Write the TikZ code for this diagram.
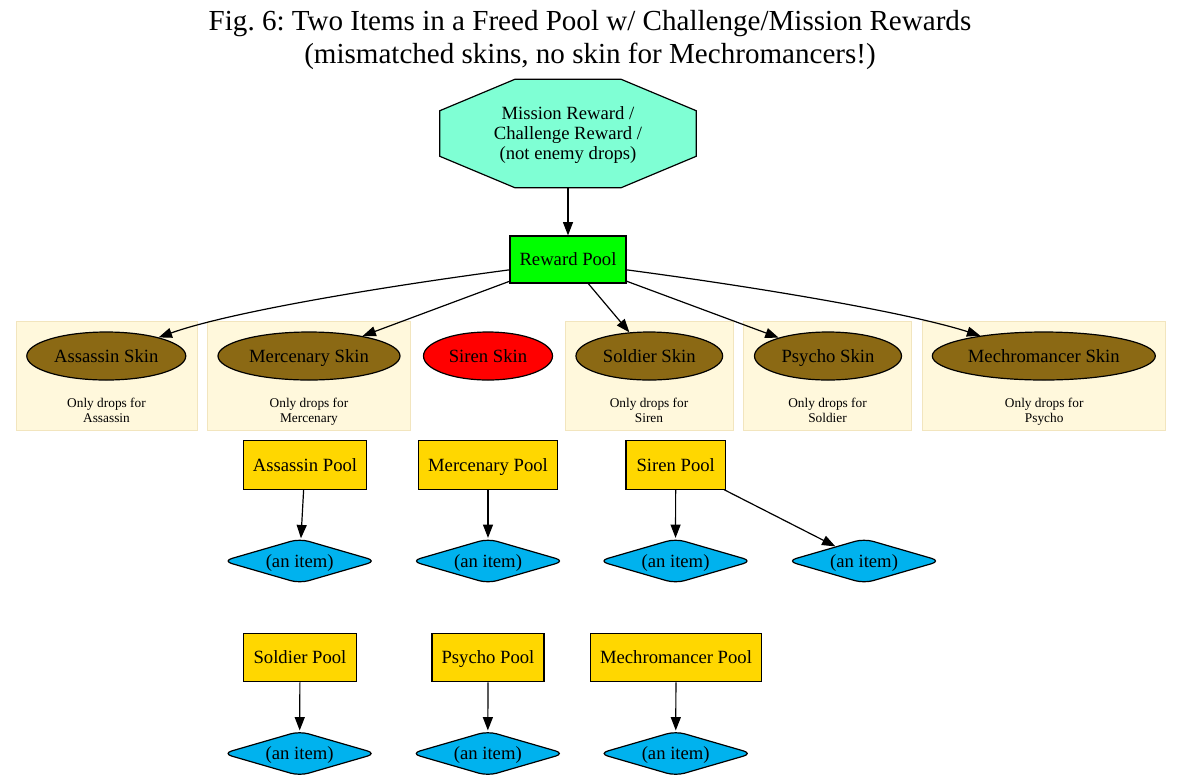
\documentclass[tikz,border=0pt]{standalone}
\usepackage{fontspec}
\setmainfont{Liberation Serif}
\usetikzlibrary{shapes.geometric,arrows.meta,backgrounds}
\definecolor{aquam}{HTML}{7FFFD4}
\definecolor{rpgreen}{HTML}{00FF00}
\definecolor{skinbrown}{HTML}{8B6914}
\definecolor{sirenred}{HTML}{FF0000}
\definecolor{poolgold}{HTML}{FFD700}
\definecolor{itemblue}{HTML}{00B2EE}
\definecolor{clfill}{HTML}{FFF8DC}
\definecolor{clborder}{HTML}{F2E5BE}
\newlength\px
\setlength\px{0.75pt}
\newcommand\nfont{\fontsize{14}{15}\selectfont}
\newcommand\sfont{\fontsize{10}{11.5}\selectfont}
\newcommand\tfont{\fontsize{21.8}{24.75}\selectfont}
\frenchspacing
\begin{document}
\begin{tikzpicture}[x=0.75pt,y=-0.75pt,
  every node/.style={font=\nfont},
  oneline/.style={text height=10pt, text depth=0.8pt},
  skin/.style={oneline, ellipse, draw, fill=skinbrown, minimum height=48\px, inner sep=0, line width=0.9pt},
  pool/.style={oneline, rectangle, draw, fill=poolgold, minimum height=48.3\px, inner sep=0, line width=0.9pt},
  item/.style={oneline, diamond, aspect=3.4, draw, fill=itemblue, minimum width=154\px, minimum height=45\px, inner sep=0, rounded corners=7pt, line width=0.9pt},
  cluster/.style={rectangle, draw=clborder, fill=clfill, minimum height=108.5\px, inner sep=0, line width=0.75pt},
  cllabel/.style={font=\sfont, align=center, anchor=north, inner sep=0},
  edge/.style={draw, line width=0.9pt, -{Triangle[length=10pt,width=7.5pt]}}]
\useasboundingbox (0,0) rectangle (1181,783);

% title
\node[font=\tfont, align=center] (title) at (590,40.5) {Fig. 6: Two Items in a Freed Pool w/ Challenge/Mission Rewards\\(mismatched skins, no skin for Mechromancers!)};

% source octagon
\node[align=center, minimum width=256\px, minimum height=108\px, inner sep=0] (src) at (568,133.5) {};
\node[align=center, inner sep=0] (srctext) at (568,135) {Mission Reward /\\Challenge Reward /\\(not enemy drops)};
\begin{scope}[on background layer]
\draw[fill=aquam, line width=0.9pt] ([xshift=-53\px]src.north) -- ([xshift=53\px]src.north) -- ([yshift=-31.5\px]src.north east) -- ([yshift=31.5\px]src.south east) -- ([xshift=53\px]src.south) -- ([xshift=-53\px]src.south) -- ([yshift=31.5\px]src.south west) -- ([yshift=-31.5\px]src.north west) -- cycle;
\end{scope}

% reward pool
\node[oneline, rectangle, draw, fill=rpgreen, minimum width=116\px, minimum height=47\px, inner sep=0, line width=0.9pt] (rp) at (568,259.5) {Reward Pool};

% clusters
\node[cluster, minimum width=181\px] (c1) at (106.5,375.75) {};
\node[cluster, minimum width=203\px] (c2) at (309,375.75) {};
\node[cluster, minimum width=168\px] (c3) at (649,375.75) {};
\node[cluster, minimum width=168.4\px] (c4) at (827.5,375.75) {};
\node[cluster, minimum width=243\px] (c5) at (1044.2,375.75) {};
\node[cllabel] (l1) at (106.5,397.5) {Only drops for\\Assassin};
\node[cllabel] (l2) at (309,397.5) {Only drops for\\Mercenary};
\node[cllabel] (l3) at (649,397.5) {Only drops for\\Siren};
\node[cllabel] (l4) at (827.5,397.5) {Only drops for\\Soldier};
\node[cllabel] (l5) at (1044.2,397.5) {Only drops for\\Psycho};

% skins
\node[skin, minimum width=159\px] (as) at (106.3,356) {Assassin Skin};
\node[skin, minimum width=182\px] (ms) at (309,356) {Mercenary Skin};
\node[skin, fill=sirenred, minimum width=129\px] (sis) at (488,356) {Siren Skin};
\node[skin, minimum width=146.7\px] (ss) at (649.3,356) {Soldier Skin};
\node[skin, minimum width=147\px] (ps) at (828,356) {Psycho Skin};
\node[skin, minimum width=223\px] (mks) at (1043.8,356) {Mechromancer Skin};

% pools row 1
\node[pool, minimum width=123.4\px] (ap) at (305,465) {Assassin Pool};
\node[pool, minimum width=139\px] (mp) at (488,465) {Mercenary Pool};
\node[pool, minimum width=99.3\px] (sip) at (675.7,465) {Siren Pool};
% items row 1
\node[item] (ai) at (299.7,561) {(an item)};
\node[item] (mi) at (488,561) {(an item)};
\node[item] (sii1) at (675.5,561) {(an item)};
\node[item] (sii2) at (864,561) {(an item)};

% pools row 2
\node[pool, minimum width=112.5\px] (sp) at (300,657.5) {Soldier Pool};
\node[pool, minimum width=112\px] (pp) at (488,657.5) {Psycho Pool};
\node[pool, minimum width=171\px] (mkp) at (676,657.5) {Mechromancer Pool};
% items row 2
\node[item] (si) at (299.6,753.5) {(an item)};
\node[item] (pi) at (487.8,753.5) {(an item)};
\node[item] (mki) at (675.7,753.5) {(an item)};

% edges
\draw[edge] (src) -- (rp);
\draw[edge] (rp.190) .. controls (380,287) and (230,312) .. (as);
\draw[edge] (rp) -- (ms);
\draw[edge] (rp) -- (ss);
\draw[edge] (rp) -- (ps);
\draw[edge] (rp.-10) .. controls (756,287) and (906,312) .. (mks);
\draw[edge] (ap) -- (ai);
\draw[edge] (mp) -- (mi);
\draw[edge] (sip) -- (sii1);
\draw[edge] (sip) -- (sii2);
\draw[edge] (sp) -- (si);
\draw[edge] (pp) -- (pi);
\draw[edge] (mkp) -- (mki);
\end{tikzpicture}
\end{document}
